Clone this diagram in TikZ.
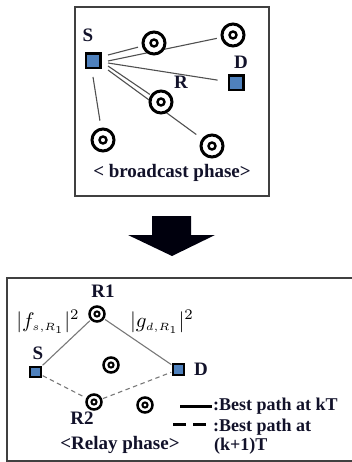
\documentclass[tikz,border=0pt]{standalone}
\usepackage{fontspec}
\setmainfont{Liberation Serif}
\usetikzlibrary{calc}
\pgfdeclarelayer{bg}
\pgfsetlayers{bg,main}
\definecolor{txt}{RGB}{18,18,42}
\definecolor{sqblue}{RGB}{79,129,189}
\definecolor{lgray}{RGB}{80,80,80}
\definecolor{bgray}{RGB}{120,120,120}
\begin{document}
\begin{tikzpicture}[x=1pt,y=-1pt,
  boxline/.style={draw=black!75,line width=1.2pt},
  lab/.style={text=txt,font=\fontsize{19}{19}\selectfont\bfseries,inner sep=0pt},
  phase/.style={text=txt,font=\fontsize{19}{19}\selectfont\bfseries,inner sep=0pt},
  leg/.style={text=txt,font=\fontsize{18}{18}\selectfont\bfseries,inner sep=0pt,anchor=west},
  relay/.style={circle,draw=black,line width=3pt,minimum size=22pt,inner sep=0pt,fill=white,
    path picture={\draw[line width=2.4pt] (path picture bounding box.center) circle (3.5pt);}},
  relays/.style={circle,draw=black,line width=2.5pt,minimum size=15pt,inner sep=0pt,fill=white,
    path picture={\draw[line width=2pt] (path picture bounding box.center) circle (2.6pt);}},
  term/.style={rectangle,draw=black,fill=sqblue,line width=2.5pt,minimum size=14.5pt,inner sep=0pt},
  terms/.style={rectangle,draw=black,fill=sqblue,line width=2.2pt,minimum size=10.5pt,inner sep=0pt},
  tline/.style={draw=lgray,line width=1.1pt},
  bline/.style={draw=bgray,line width=1.1pt},
  bdash/.style={draw=bgray,line width=1.1pt,dash pattern=on 4.5pt off 3.5pt},
  mlab/.style={inner sep=0pt,scale=2.1}]
\useasboundingbox (0,0) rectangle (352,462);
% ---------- broadcast phase ----------
\draw[boxline] (75,7) rectangle (269,196);
\node[term] (S) at (93,61) {};
\node[term] (D) at (236,83) {};
\node[relay] (c1) at (154,43) {};
\node[relay] (c2) at (233,35) {};
\node[relay] (R) at (161,102) {};
\node[relay] (c4) at (103,140) {};
\node[relay] (c5) at (212,146) {};
\node[lab] (Sl) at (88,35) {S};
\node[lab] (Dl) at (241,62) {D};
\node[lab] (Rl) at (181,82) {R};
\node[phase] (bp) at (172,173) {< broadcast phase>};
\coordinate (s1) at ($(S.center)+(15,-6)$);
\coordinate (s2) at ($(S.center)+(15,0)$);
\coordinate (s3) at ($(S.center)+(15,2)$);
\coordinate (s4) at ($(S.center)+(15,5)$);
\coordinate (s5) at ($(S.center)+(15,9)$);
\coordinate (s6) at ($(S.center)+(0,16)$);
\begin{pgfonlayer}{bg}
\draw[tline,shorten >=4pt] (s1) -- (c1);
\draw[tline,shorten >=4pt] (s2) -- (c2);
\draw[tline,shorten >=10pt] (s3) -- (D);
\draw[tline,shorten >=1pt] (s4) -- (R);
\draw[tline,shorten >=7pt] (s5) -- (c5);
\draw[tline,shorten >=7pt] (s6) -- (c4);
\end{pgfonlayer}
% ---------- arrow ----------
\fill[black!95!blue] (152,216) -- (191,216) -- (191,235) -- (215,235) -- (172,256)
  -- (128,235) -- (152,235) -- cycle;
% ---------- relay phase ----------
\begin{scope}
\clip (0,0) rectangle (352,462);
\draw[boxline] (7,278) rectangle (362,461);
\end{scope}
\node[terms] (S2) at (35.5,372) {};
\node[terms] (D2) at (178.5,369.5) {};
\node[relays] (R1) at (97,314) {};
\node[relays] (m1) at (111,365) {};
\node[relays] (R2) at (94,402) {};
\node[relays] (m2) at (145,405) {};
\node[lab] (R1l) at (103,291) {R1};
\node[lab] (R2l) at (82,418) {R2};
\node[lab] (S2l) at (38,353) {S};
\node[lab] (D2l) at (201,369) {D};
\node[mlab] (fl) at (48,322) {$|f_{\scriptscriptstyle s,R_1}|^2$};
\node[mlab] (gl) at (162,322) {$|g_{\scriptscriptstyle d,R_1}|^2$};
\begin{pgfonlayer}{bg}
\draw[bline,shorten <=1pt,shorten >=1pt] (S2) -- (R1);
\draw[bline,shorten <=1pt,shorten >=1pt] (R1) -- (D2);
\draw[bdash,shorten <=1pt,shorten >=1pt] (S2) -- (R2);
\draw[bdash,shorten <=1pt,shorten >=1pt] (R2) -- (D2);
\end{pgfonlayer}
\node[phase] (rp) at (120,445) {<Relay phase>};
\coordinate (a1) at (180,406);
\coordinate (a2) at (212,406);
\coordinate (b1) at (173,424);
\coordinate (b2) at (212,424);
\draw[black,line width=3pt] (a1) -- (a2);
\draw[black,line width=3pt,dash pattern=on 13pt off 7pt] (b1) -- (b2);
\node[leg] (l1) at (213,406) {:Best path at kT};
\node[leg] (l2) at (213,427) {:Best path at};
\node[leg] (l3) at (214,446) {(k+1)T};
\end{tikzpicture}
\end{document}
